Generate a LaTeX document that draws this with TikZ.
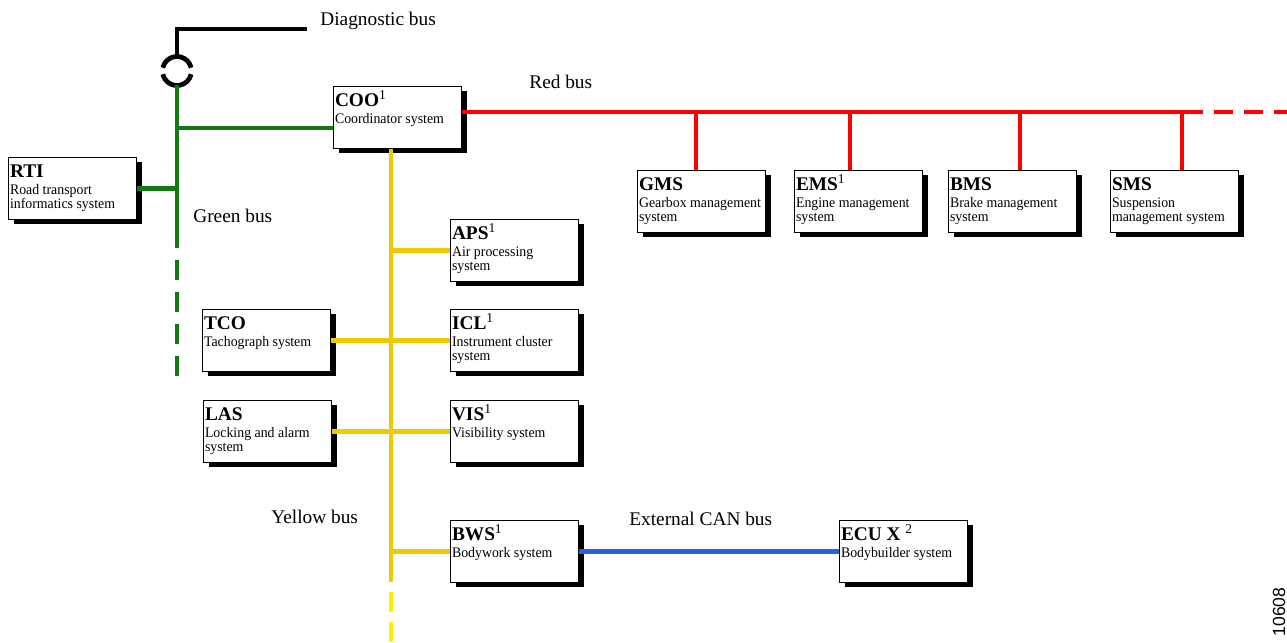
\documentclass[tikz,border=0pt]{standalone}
\usepackage{fontspec}
\setmainfont{Liberation Serif}
\newfontfamily\boxfont[FakeStretch=0.95]{Liberation Serif}
\newfontfamily\numfont{Liberation Sans}
\usepackage{tikz}
\usetikzlibrary{calc,shadows}
\definecolor{redbus}{HTML}{FF0000}
\definecolor{greenbus}{HTML}{137A13}
\definecolor{yellowbus}{HTML}{EDCB00}
\definecolor{yellowdash}{HTML}{FFEF00}
\definecolor{canblue}{HTML}{2B5FE3}

% text of one control unit: bold name, then its description
\newcommand{\ecutext}[2]{\parbox[c][1.24cm][t]{2.5cm}{\rule{0pt}{11.3pt}{\fontsize{11}{12}\selectfont\bfseries #1}\par\vspace{1.3pt}{\boxfont\fontsize{8.3}{8.2}\selectfont #2\par}}}
\newcommand{\upnote}[1]{\textsuperscript{\normalfont #1}}

\begin{document}
\begin{tikzpicture}[x=0.02cm,y=-0.02cm]
    \tikzset{
      ecu/.style={draw=black, line width=0.6pt, fill=white, anchor=north west, inner sep=0pt,
        minimum width=2.56cm, minimum height=1.24cm,
        general shadow={fill=black, shadow xshift=0.11cm, shadow yshift=-0.08cm}},
      bus/.style={line width=2.7pt},
      buslabel/.style={anchor=base west, inner sep=0pt, font=\fontsize{11}{13}\selectfont}
    }
    \useasboundingbox (0,0) rectangle (1287,642);

    % control units
    \node[ecu] (coo) at (333,86) {\ecutext{COO\upnote{1}}{Coordinator system}};
    \node[ecu] (rti) at (8,157) {\ecutext{RTI}{Road transport\\informatics system}};
    \node[ecu] (gms) at (637,170) {\ecutext{GMS}{Gearbox management\\system}};
    \node[ecu] (ems) at (794,170) {\ecutext{EMS\upnote{1}}{Engine management\\system}};
    \node[ecu] (bms) at (948,170) {\ecutext{BMS}{Brake management\\system}};
    \node[ecu] (sms) at (1110,170) {\ecutext{SMS}{Suspension\\management system}};
    \node[ecu] (aps) at (450,219) {\ecutext{APS\upnote{1}}{Air processing\\system}};
    \node[ecu] (tco) at (202,309) {\ecutext{TCO}{Tachograph system}};
    \node[ecu] (icl) at (450,309) {\ecutext{ICL\upnote{1}}{Instrument cluster\\system}};
    \node[ecu] (las) at (203,400) {\ecutext{LAS}{Locking and alarm\\system}};
    \node[ecu] (vis) at (450,400) {\ecutext{VIS\upnote{1}}{Visibility system}};
    \node[ecu] (bws) at (450,520) {\ecutext{BWS\upnote{1}}{Bodywork system}};
    \node[ecu] (ecux) at (839,520) {\ecutext{ECU X~\upnote{2}}{Bodybuilder system}};

    % bus labels
    \node[buslabel] (diaglbl) at (320,26) {Diagnostic bus};
    \node[buslabel] (redlbl) at (529,89) {Red bus};
    \node[buslabel] (greenlbl) at (193,222) {Green bus};
    \node[buslabel] (yellowlbl) at (271,523) {Yellow bus};
    \node[buslabel] (canlbl) at (629,525) {External CAN bus};
    \node[font=\numfont\fontsize{10}{12}\selectfont, rotate=90, anchor=base, inner sep=0pt] (figno) at (1285,612) {10608};

    % bus points
    \coordinate (diagend) at (307,29);
    \coordinate (diagcorner) at (177,29);
    \coordinate (plug) at (177,71);
    \coordinate (gsolid) at (177,248);
    \coordinate (gend) at (177,387);
    \coordinate (gcoo) at ($(coo.north west)+(0,42)$);
    \coordinate (rcoo) at ($(coo.north east)+(0,26)$);
    \coordinate (rsolid) at (1203,112);
    \coordinate (rend) at (1287,112);
    \coordinate (ycoo) at ($(coo.south west)+(58,0)$);
    \coordinate (ysolid) at (391,582);
    \coordinate (yend) at (391,642);

    % diagnostic bus and connector
    \draw[bus] (diagend) -- (diagcorner) -- ($(plug)+(0,-14.5)$);
    \draw[bus] ($(plug)+(167:0.29cm)$) arc[start angle=167, end angle=13, radius=0.29cm];
    \draw[bus] ($(plug)+(193:0.29cm)$) arc[start angle=193, end angle=347, radius=0.29cm];

    % green bus
    \draw[bus, greenbus] ($(plug)+(0,14.5)$) -- (gsolid);
    \draw[bus, greenbus, dash pattern=on 0.4cm off 0.24cm, dash phase=0.4cm] (gsolid) -- (gend);
    \draw[bus, greenbus] (gcoo) -- (gcoo -| plug);
    \draw[bus, greenbus] (rti.east) -- (rti.east -| plug);

    % red bus
    \draw[bus, redbus] (rcoo) -- (rsolid);
    \draw[bus, redbus, dash pattern=on 0.38cm off 0.22cm, dash phase=0.38cm] (rsolid) -- (rend);
    \foreach \u/\dx in {gms/59, ems/56, bms/72, sms/72} {
      \path ($(\u.north west)+(\dx,0)$) coordinate (drop);
      \draw[bus, redbus] (drop) -- (drop |- rcoo);
    }

    % yellow bus
    \draw[bus, yellowbus] (ycoo) -- (ysolid);
    \draw[bus, yellowdash, dash pattern=on 0.4cm off 0.2cm, dash phase=0.4cm] (ysolid) -- (yend);
    \draw[bus, yellowbus] (aps.west) -- (aps.west -| ycoo);
    \draw[bus, yellowbus] (tco.east) -- (icl.west);
    \draw[bus, yellowbus] (las.east) -- (vis.west);
    \draw[bus, yellowbus] (bws.west) -- (bws.west -| ycoo);

    % external CAN bus
    \draw[bus, canblue] (bws.east) -- (ecux.west);
  \end{tikzpicture}
\end{document}
